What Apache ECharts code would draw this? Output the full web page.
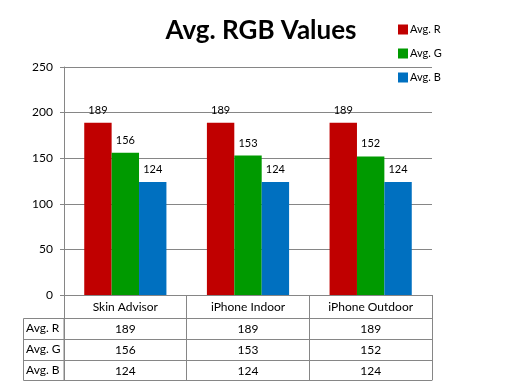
<!DOCTYPE html>
<html><head><meta charset="utf-8">
<script src="https://cdn.jsdelivr.net/npm/echarts@6/dist/echarts.min.js"></script>
<style>html,body{margin:0;padding:0;background:#fff}#c{width:514px;height:389px}</style>
</head><body><div id="c"></div>
<script>
const categories = ['Skin Advisor', 'iPhone Indoor', 'iPhone Outdoor'];
const seriesNames = ['Avg. R', 'Avg. G', 'Avg. B'];
const avgR = [189, 189, 189];
const avgG = [156, 153, 152];
const avgB = [124, 124, 124];
const yTicks = [0, 50, 100, 150, 200, 250];

const FONT = 'Lato, "Open Sans", sans-serif';
const GRAY = '#868686';
const colors = ['#C00000', '#009A00', '#0070C0'];
const values = [avgR, avgG, avgB];

const chart = echarts.init(document.getElementById('c'));
const rowH = [23, 21, 21, 20];
const tableAxes = [];
let off = rowH[0];
for (let i = 0; i < 3; i++) {
  tableAxes.push({
    type: 'category', gridIndex: 0, position: 'bottom', offset: off,
    data: values[i].map(String),
    axisLine: {show: true, lineStyle: {color: GRAY}},
    axisTick: {show: true, length: rowH[i + 1], lineStyle: {color: GRAY}},
    axisLabel: {show: true, margin: 5, color: '#000', fontSize: 12, fontFamily: FONT},
    splitLine: {show: false}
  });
  off += rowH[i + 1];
}
tableAxes.push({
  type: 'category', gridIndex: 0, position: 'bottom', offset: off,
  data: categories,
  axisLine: {show: true, lineStyle: {color: GRAY}},
  axisTick: {show: false}, axisLabel: {show: false}, splitLine: {show: false}
});

const rowLabelGraphics = [];
const tTop = 295 + rowH[0];
let yy = tTop;
for (let i = 0; i < 3; i++) {
  rowLabelGraphics.push({
    type: 'text', left: 26, top: yy + 4,
    style: {text: seriesNames[i], fill: '#000', font: '12px ' + FONT}
  });
  yy += rowH[i + 1];
}
rowLabelGraphics.push({
  type: 'rect', shape: {x: 23.5, y: tTop + 0.5, width: 40.5, height: yy - tTop},
  style: {fill: 'none', stroke: GRAY, lineWidth: 1}, silent: true
});
let yl = tTop;
for (let i = 0; i < 2; i++) {
  yl += rowH[i + 1];
  rowLabelGraphics.push({
    type: 'line', shape: {x1: 23, y1: yl + 0.5, x2: 64, y2: yl + 0.5},
    style: {stroke: GRAY, lineWidth: 1}, silent: true
  });
}

chart.setOption({
  animation: false,
  backgroundColor: '#fff',
  title: {
    text: 'Avg. RGB Values', left: 256, top: 13, textAlign: 'center',
    textStyle: {fontFamily: FONT, fontWeight: 'bold', fontSize: 26, color: '#000'}
  },
  legend: {
    orient: 'vertical', left: 398, top: 24, padding: 0, itemWidth: 10, itemHeight: 10, itemGap: 13,
    icon: 'rect', textStyle: {fontFamily: FONT, fontSize: 11, color: '#000', padding: [0, 0, 0, -3]},
    data: seriesNames
  },
  grid: {left: 64, right: 82, top: 67, bottom: 94, containLabel: false},
  xAxis: [{
    type: 'category', data: categories, gridIndex: 0,
    axisLine: {show: true, lineStyle: {color: GRAY}},
    axisTick: {show: true, length: rowH[0], lineStyle: {color: GRAY}},
    axisLabel: {margin: 6, color: '#000', fontSize: 12, fontFamily: FONT},
    splitLine: {show: false}
  }].concat(tableAxes),
  yAxis: {
    type: 'value', min: yTicks[0], max: yTicks[yTicks.length - 1], interval: 50,
    axisLine: {show: true, lineStyle: {color: GRAY}},
    axisTick: {show: true, length: 4, lineStyle: {color: GRAY}},
    axisLabel: {margin: 11, color: '#000', fontSize: 12, fontFamily: FONT},
    splitLine: {show: true, lineStyle: {color: GRAY}}
  },
  graphic: rowLabelGraphics,
  series: seriesNames.map((n, i) => ({
    name: n, type: 'bar', data: values[i], barGap: '0%', barCategoryGap: '33%',
    itemStyle: {color: colors[i]},
    label: {show: true, position: 'top', distance: 7, color: '#000', fontSize: 11, fontFamily: FONT}
  }))
});
</script></body></html>
